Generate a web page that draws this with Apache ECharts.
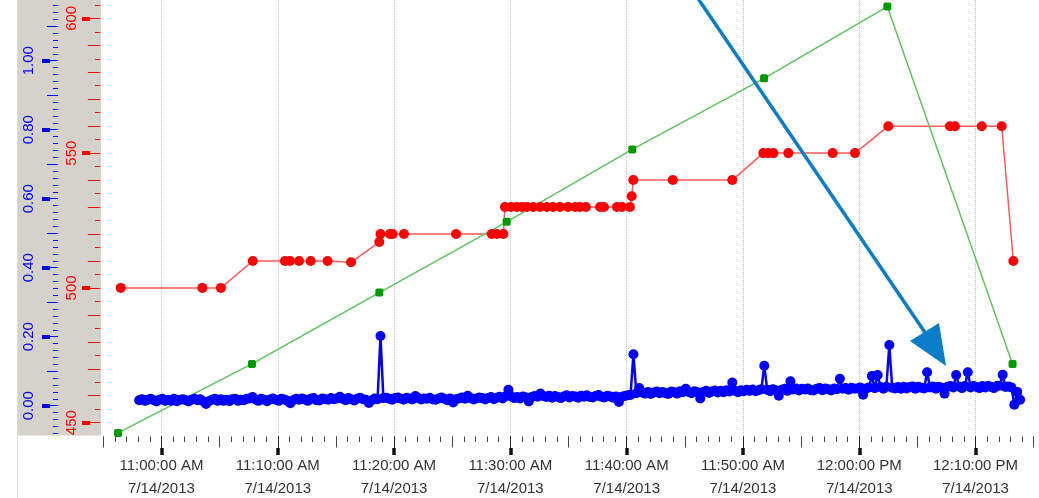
<!DOCTYPE html>
<html>
<head>
<meta charset="utf-8">
<script src="https://cdn.jsdelivr.net/npm/echarts@6.0.0/dist/echarts.min.js"></script>
<style>
  html, body { margin: 0; padding: 0; background: #fff; }
  #chart { width: 1039px; height: 498px; }
</style>
</head>
<body>
<div id="chart"></div>
<script>
// tick labels
const dateLabel = "7/14/2013"
const xTickTimes = ["11:00", "11:10", "11:20", "11:30", "11:40", "11:50", "12:00", "12:10"]
const xTickLabels = ["11:00:00 AM", "11:10:00 AM", "11:20:00 AM", "11:30:00 AM", "11:40:00 AM", "11:50:00 AM", "12:00:00 PM", "12:10:00 PM"]
const blueTicks = [0, 0.2, 0.4, 0.6, 0.8, 1.0]
const redTicks = [450, 500, 550, 600]

// green series (left blue scale)
const greenTimes = ["10:56:16", "11:07:47", "11:18:44", "11:29:41", "11:40:29", "11:51:49", "12:02:25", "12:13:11"]
const greenValues = [-0.079, 0.121, 0.328, 0.533, 0.743, 0.949, 1.157, 0.121]

// red series (red scale)
const redTimes = [
  "10:56:30", "11:03:31", "11:05:07", "11:07:51", "11:10:37", "11:11:03", "11:11:50", "11:12:50", "11:14:17", "11:16:18",
  "11:18:44", "11:18:50", "11:19:39", "11:19:53", "11:20:51", "11:25:20", "11:28:24", "11:28:50", "11:29:24", "11:29:32",
  "11:30:03", "11:30:34", "11:31:00", "11:31:26", "11:31:57", "11:32:33", "11:33:09", "11:33:40", "11:34:16", "11:34:58",
  "11:35:34", "11:35:59", "11:36:30", "11:37:43", "11:38:03", "11:39:10", "11:39:36", "11:40:17",
  "11:40:26", "11:40:34", "11:43:58", "11:49:05",
  "11:51:45", "11:52:11", "11:52:37", "11:53:54", "11:57:43", "11:59:38",
  "12:02:30", "12:07:48", "12:08:14", "12:10:32", "12:12:15", "12:13:15",
]
const redValues = [
  500, 500, 500, 510, 510, 510, 510, 510, 510, 509.5,
  517, 520, 520, 520, 520, 520, 520, 520, 520, 530,
  530, 530, 530, 530, 530, 530, 530, 530, 530, 530,
  530, 530, 530, 530, 530, 530, 530, 530,
  534, 540, 540, 540,
  550, 550, 550, 550, 550, 550,
  560, 560, 560, 560, 560, 510,
]

// blue series, sampled every 15 s
const blueStart = "10:58:05"
const blueStepSec = 15
const blueValues = [
  0.016, 0.019, 0.014, 0.017, 0.020, 0.016, 0.012, 0.017, 0.020, 0.014,
  0.017, 0.014, 0.020, 0.013, 0.017, 0.019, 0.016, 0.012, 0.017, 0.020,
  0.016, 0.019, 0.013, 0.005, 0.013, 0.017, 0.020, 0.014, 0.019, 0.014,
  0.017, 0.013, 0.019, 0.020, 0.014, 0.017, 0.016, 0.020, 0.021, 0.025,
  0.018, 0.014, 0.020, 0.017, 0.013, 0.018, 0.021, 0.017, 0.014, 0.020,
  0.018, 0.014, 0.007, 0.016, 0.020, 0.017, 0.021, 0.018, 0.014, 0.020,
  0.022, 0.016, 0.015, 0.021, 0.019, 0.017, 0.022, 0.019, 0.021, 0.026,
  0.020, 0.016, 0.022, 0.019, 0.015, 0.020, 0.023, 0.019, 0.017, 0.008,
  0.016, 0.021, 0.019, 0.202, 0.022, 0.023, 0.020, 0.017, 0.022, 0.024,
  0.020, 0.017, 0.023, 0.021, 0.018, 0.028, 0.022, 0.018, 0.021, 0.020,
  0.023, 0.018, 0.017, 0.021, 0.024, 0.020, 0.016, 0.021, 0.009, 0.019,
  0.021, 0.024, 0.020, 0.029, 0.022, 0.018, 0.021, 0.024, 0.022, 0.018,
  0.022, 0.025, 0.019, 0.023, 0.026, 0.021, 0.027, 0.046, 0.027, 0.022,
  0.025, 0.021, 0.027, 0.024, 0.012, 0.025, 0.028, 0.026, 0.035, 0.028,
  0.025, 0.029, 0.023, 0.028, 0.025, 0.022, 0.027, 0.030, 0.024, 0.028,
  0.027, 0.023, 0.029, 0.026, 0.030, 0.025, 0.024, 0.028, 0.031, 0.026,
  0.024, 0.029, 0.027, 0.023, 0.027, 0.011, 0.026, 0.028, 0.030, 0.031,
  0.149, 0.036, 0.051, 0.038, 0.035, 0.040, 0.034, 0.038, 0.041, 0.036,
  0.040, 0.036, 0.034, 0.041, 0.039, 0.035, 0.042, 0.039, 0.049, 0.040,
  0.036, 0.042, 0.039, 0.021, 0.040, 0.043, 0.037, 0.041, 0.044, 0.038,
  0.043, 0.039, 0.045, 0.041, 0.067, 0.043, 0.039, 0.045, 0.042, 0.046,
  0.043, 0.047, 0.042, 0.045, 0.048, 0.116, 0.046, 0.042, 0.048, 0.044,
  0.029, 0.046, 0.049, 0.043, 0.071, 0.047, 0.050, 0.044, 0.049, 0.047,
  0.050, 0.045, 0.044, 0.049, 0.051, 0.045, 0.050, 0.048, 0.044, 0.050,
  0.048, 0.078, 0.049, 0.051, 0.046, 0.052, 0.049, 0.050, 0.053, 0.032,
  0.050, 0.053, 0.086, 0.051, 0.089, 0.054, 0.049, 0.055, 0.176, 0.052,
  0.050, 0.054, 0.049, 0.055, 0.050, 0.054, 0.056, 0.049, 0.055, 0.052,
  0.050, 0.097, 0.053, 0.056, 0.049, 0.055, 0.052, 0.035, 0.055, 0.057,
  0.053, 0.089, 0.056, 0.051, 0.057, 0.097, 0.053, 0.057, 0.054, 0.051,
  0.057, 0.053, 0.058, 0.054, 0.051, 0.057, 0.058, 0.090, 0.054, 0.056,
  0.053, 0.003, 0.040, 0.017,
]

function toMin(s) {
  const p = s.split(":").map(Number)
  return p[0] * 60 + p[1] + (p[2] || 0) / 60
}
function steps(from, to, step) {
  const out = []
  for (let v = from; v <= to + 1e-9; v += step) out.push(+v.toFixed(4))
  return out
}

const X_MIN = toMin("10:55")
const X_MAX = toMin("12:15")
const BLUE_MIN = -0.0864, BLUE_MAX = 1.176
const RED_MIN = 445.25, RED_MAX = 606.8
const FONT = "Liberation Sans, Arial, sans-serif"
const GRID_LEFT = 103.3

const greenData = greenTimes.map((t, i) => [toMin(t), greenValues[i]])
const redData = redTimes.map((t, i) => [toMin(t), redValues[i]])
const blueT0 = toMin(blueStart)
const blueData = blueValues.map((v, i) => [blueT0 + (i * blueStepSec) / 60, v])

function xAx(ticks, len, width, color, offset, extra) {
  return Object.assign({
    type: "value", min: X_MIN, max: X_MAX, position: "bottom", offset: offset || 0,
    axisLine: { show: false, onZero: false },
    axisTick: { show: true, customValues: ticks, length: len, lineStyle: { width: width, color: color } },
    axisLabel: { show: false },
    splitLine: { show: false },
  }, extra || {})
}
function yAx(min, max, ticks, len, width, color, offset, extra) {
  return Object.assign({
    type: "value", min: min, max: max, position: "left", offset: offset,
    axisLine: { show: false, onZero: false },
    axisTick: { show: true, customValues: ticks, length: len, lineStyle: { width: width, color: color } },
    axisLabel: { show: false },
    splitLine: { show: false },
  }, extra || {})
}

const xMajor = xTickTimes.map(toMin)
const blueOff = GRID_LEFT - 58
const redOff = GRID_LEFT - 100

const chart = echarts.init(document.getElementById("chart"))
const option = {
  animation: false,
  backgroundColor: "#fff",
  grid: { left: GRID_LEFT, right: 5.3, top: 0, bottom: 62.5, outerBoundsMode: "none" },
  xAxis: [
    xAx(steps(X_MIN, X_MAX, 1), 5.5, 1, "#444", 1),
    xAx(steps(X_MIN, X_MAX, 5), 11, 1, "#444", 1),
    xAx(xMajor, 12, 1, "#222", 1, {
      axisLabel: {
        show: true, customValues: xMajor, fontSize: 15, lineHeight: 23, color: "#333",
        fontFamily: FONT, margin: 18,
        formatter: (v) => {
          const i = xMajor.findIndex((m) => Math.abs(m - v) < 0.01)
          return (i >= 0 ? xTickLabels[i] : "") + "\n" + dateLabel
        },
      },
      splitLine: { show: true, lineStyle: { type: "dotted", color: "#c4c4c4", width: 1 } },
    }),
    xAx(xMajor, 7, 3.5, "#111", 12.5),
  ],
  yAxis: [
    yAx(BLUE_MIN, BLUE_MAX, steps(-0.08, 1.16, 0.02), 5, 1, "#0000ff", blueOff),
    yAx(BLUE_MIN, BLUE_MAX, steps(-0.1, 1.1, 0.1), 11, 1, "#0000ff", blueOff),
    yAx(BLUE_MIN, BLUE_MAX, blueTicks, 16, 1, "#0000ff", blueOff, {
      axisLabel: {
        show: true, customValues: blueTicks, rotate: 90, fontSize: 15, color: "#0000ff",
        fontFamily: FONT, margin: 22, formatter: (v) => v.toFixed(2),
      },
    }),
    yAx(BLUE_MIN, BLUE_MAX, blueTicks, 8, 4, "#0000ff", blueOff + 8),
    yAx(RED_MIN, RED_MAX, steps(450, 605, 5), 5, 1, "#ff0000", redOff),
    yAx(RED_MIN, RED_MAX, steps(450, 600, 10), 12, 1, "#ff0000", redOff),
    yAx(RED_MIN, RED_MAX, redTicks, 18, 1, "#ff0000", redOff, {
      axisLabel: {
        show: true, customValues: redTicks, rotate: 90, fontSize: 15, color: "#ff0000",
        fontFamily: FONT, margin: 21, formatter: (v) => String(v),
      },
    }),
    yAx(RED_MIN, RED_MAX, redTicks, 8, 4, "#ff0000", redOff + 10),
  ],
  series: [
    {
      name: "blue", type: "line", xAxisIndex: 2, yAxisIndex: 2, data: blueData,
      showAllSymbol: true, symbol: "circle", symbolSize: 10,
      lineStyle: { color: "#0000ff", width: 2.5 },
      itemStyle: { color: "#0000ff" },
    },
    {
      name: "red", type: "line", xAxisIndex: 2, yAxisIndex: 6, data: redData,
      showAllSymbol: true, symbol: "circle", symbolSize: 10,
      lineStyle: { color: "#ff5a5a", width: 1.5 },
      itemStyle: { color: "#ff0000" },
    },
    {
      name: "green", type: "line", xAxisIndex: 2, yAxisIndex: 2, data: greenData,
      showAllSymbol: true, symbol: "roundRect", symbolSize: 8,
      lineStyle: { color: "#5cc45c", width: 1.5 },
      itemStyle: { color: "#009a00" },
    },
  ],
  graphic: [
    { type: "rect", z: -10, shape: { x: 17, y: 0, width: 84, height: 435.5 }, style: { fill: "#d5d2cc" } },
    { type: "line", z: -10, shape: { x1: 17.5, y1: 0, x2: 17.5, y2: 498 }, style: { stroke: "#dcdcdc", lineWidth: 1 } },
    { type: "line", z: 100, shape: { x1: 697, y1: -3, x2: 926, y2: 334 }, style: { stroke: "#0a7dca", lineWidth: 3.5 } },
    { type: "polygon", z: 100, shape: { points: [[946, 366], [910, 341], [939, 323]] }, style: { fill: "#0a7dca" } },
  ],
}
chart.setOption(option)
</script>
</body>
</html>
